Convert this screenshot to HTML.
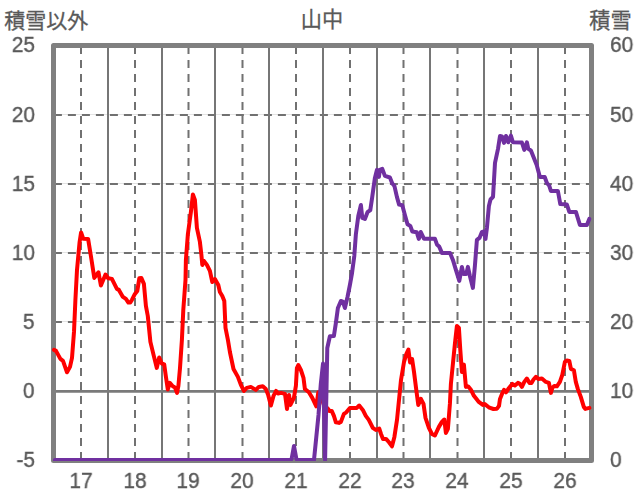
<!DOCTYPE html>
<html><head><meta charset="utf-8"><title>chart</title>
<style>
html,body{margin:0;padding:0;background:#fff}
body{width:636px;height:501px;position:relative;overflow:hidden;font-family:"Liberation Sans",sans-serif}
.t{position:absolute;will-change:transform;transform:scaleX(0.93);-webkit-text-stroke:0.4px #595959;font-size:22.5px;line-height:24px;height:24px;color:#595959;white-space:nowrap}
</style></head><body>
<svg width="636" height="501" viewBox="0 0 636 501" style="position:absolute;left:0;top:0">
<rect width="636" height="501" fill="#fff"/>
<line x1="56" y1="114.5" x2="589" y2="114.5" stroke="#e4e4e4" stroke-width="1"/>
<line x1="56" y1="183.5" x2="589" y2="183.5" stroke="#e4e4e4" stroke-width="1"/>
<line x1="56" y1="252.5" x2="589" y2="252.5" stroke="#e4e4e4" stroke-width="1"/>
<line x1="56" y1="321.5" x2="589" y2="321.5" stroke="#e4e4e4" stroke-width="1"/>
<line x1="53.9" y1="115.0" x2="589" y2="115.0" stroke="#717171" stroke-width="2" stroke-dasharray="8 6"/>
<line x1="53.9" y1="184.0" x2="589" y2="184.0" stroke="#717171" stroke-width="2" stroke-dasharray="8 6"/>
<line x1="53.9" y1="253.0" x2="589" y2="253.0" stroke="#717171" stroke-width="2" stroke-dasharray="8 6"/>
<line x1="53.9" y1="322.0" x2="589" y2="322.0" stroke="#717171" stroke-width="2" stroke-dasharray="8 6"/>
<line x1="81.0" y1="46.1" x2="81.0" y2="458" stroke="#717171" stroke-width="2" stroke-dasharray="7.8 6.2"/>
<line x1="135.0" y1="46.1" x2="135.0" y2="458" stroke="#717171" stroke-width="2" stroke-dasharray="7.8 6.2"/>
<line x1="188.5" y1="46.1" x2="188.5" y2="458" stroke="#717171" stroke-width="2" stroke-dasharray="7.8 6.2"/>
<line x1="242.5" y1="46.1" x2="242.5" y2="458" stroke="#717171" stroke-width="2" stroke-dasharray="7.8 6.2"/>
<line x1="296.0" y1="46.1" x2="296.0" y2="458" stroke="#717171" stroke-width="2" stroke-dasharray="7.8 6.2"/>
<line x1="350.0" y1="46.1" x2="350.0" y2="458" stroke="#717171" stroke-width="2" stroke-dasharray="7.8 6.2"/>
<line x1="403.5" y1="46.1" x2="403.5" y2="458" stroke="#717171" stroke-width="2" stroke-dasharray="7.8 6.2"/>
<line x1="457.5" y1="46.1" x2="457.5" y2="458" stroke="#717171" stroke-width="2" stroke-dasharray="7.8 6.2"/>
<line x1="511.0" y1="46.1" x2="511.0" y2="458" stroke="#717171" stroke-width="2" stroke-dasharray="7.8 6.2"/>
<line x1="565.0" y1="46.1" x2="565.0" y2="458" stroke="#717171" stroke-width="2" stroke-dasharray="7.8 6.2"/>
<line x1="108" y1="45.5" x2="108" y2="460.5" stroke="#767676" stroke-width="2"/>
<line x1="162" y1="45.5" x2="162" y2="460.5" stroke="#767676" stroke-width="2"/>
<line x1="215" y1="45.5" x2="215" y2="460.5" stroke="#767676" stroke-width="2"/>
<line x1="269" y1="45.5" x2="269" y2="460.5" stroke="#767676" stroke-width="2"/>
<line x1="323" y1="45.5" x2="323" y2="460.5" stroke="#767676" stroke-width="2"/>
<line x1="377" y1="45.5" x2="377" y2="460.5" stroke="#767676" stroke-width="2"/>
<line x1="430" y1="45.5" x2="430" y2="460.5" stroke="#767676" stroke-width="2"/>
<line x1="484" y1="45.5" x2="484" y2="460.5" stroke="#767676" stroke-width="2"/>
<line x1="538" y1="45.5" x2="538" y2="460.5" stroke="#767676" stroke-width="2"/>
<line x1="53.5" y1="391.4" x2="591.5" y2="391.4" stroke="#7a7a7a" stroke-width="2.8"/>
<rect x="53.5" y="45.5" width="538.0" height="415.0" fill="none" stroke="#808080" stroke-width="5" stroke-linejoin="round"/>
<polyline points="54.0,349.9 56.0,350.9 60.4,358.9 63.0,360.9 67.0,372.3 70.0,366.9 72.0,357.9 74.0,331.9 75.4,300.0 77.0,269.9 79.6,242.0 81.1,232.4 83.3,238.8 88.1,238.9 90.9,256.0 94.3,277.9 98.5,272.3 100.9,285.5 105.5,274.5 108.2,278.2 111.9,278.9 116.9,288.9 118.9,289.9 122.9,296.9 125.9,298.9 128.4,302.6 130.3,302.6 131.9,299.9 134.9,293.9 137.3,290.9 139.3,278.3 141.3,277.9 143.9,283.9 145.9,305.9 147.8,316.0 150.4,341.9 153.8,355.9 156.8,367.9 159.2,357.5 161.8,363.5 164.2,364.3 165.8,375.9 167.8,389.5 169.8,382.9 172.8,386.3 175.0,387.5 177.0,392.9 178.4,385.9 180.0,368.0 181.9,339.9 183.3,309.9 185.5,280.0 185.9,259.9 187.9,233.9 190.9,211.9 192.9,194.4 194.9,200.0 196.9,227.9 199.9,241.9 201.3,253.9 202.3,264.9 203.9,260.9 206.9,264.9 209.9,270.9 212.3,282.0 214.9,279.0 218.3,285.0 219.9,292.0 222.3,296.0 224.3,301.0 225.5,327.9 227.9,339.9 229.9,352.0 233.5,369.0 237.9,376.9 240.9,384.9 243.9,390.9 246.8,387.9 250.8,386.9 255.8,389.9 258.8,386.9 262.8,386.3 265.8,388.9 268.3,395.4 270.9,405.5 273.5,395.9 276.1,390.9 278.0,393.5 281.0,392.9 285.0,393.9 287.0,408.9 289.0,394.9 290.4,404.9 293.9,397.9 295.9,385.9 296.9,368.0 298.3,365.0 300.9,370.0 303.5,377.9 304.9,388.9 308.9,392.3 312.3,397.9 316.3,406.3 318.3,392.3 321.0,397.0 324.0,405.0 328.1,408.9 329.3,410.9 331.7,410.9 333.9,415.9 335.9,422.3 338.9,422.9 340.9,421.9 343.9,413.9 346.3,412.3 349.9,407.9 356.8,407.9 359.2,405.5 362.8,409.9 365.8,415.9 368.8,419.9 372.8,427.9 375.8,429.9 379.2,428.5 381.0,433.9 383.0,438.9 386.0,438.9 389.0,442.3 392.0,446.3 394.4,436.9 397.0,419.9 399.0,399.9 401.0,380.0 404.0,362.0 406.4,353.9 408.4,349.6 410.1,362.5 412.1,359.0 414.0,371.9 416.3,390.0 418.3,404.9 420.9,398.9 423.5,403.9 425.5,417.9 428.9,427.9 431.9,433.9 434.9,435.5 438.9,426.9 441.9,421.9 444.3,419.5 445.9,432.9 447.9,428.9 449.9,403.9 450.9,383.9 452.9,363.9 454.9,343.9 456.9,326.0 458.9,328.0 460.3,349.9 461.9,371.9 463.9,364.6 465.9,386.9 468.3,386.5 470.9,389.7 473.9,395.8 476.3,398.8 478.8,401.9 482.8,404.9 484.8,404.1 489.4,407.7 493.4,409.0 497.0,408.7 499.0,405.9 500.0,398.9 502.0,393.9 504.0,389.9 506.0,392.3 509.0,387.9 512.3,383.9 514.9,385.5 517.9,382.9 519.9,383.9 521.9,386.9 524.3,381.9 526.9,378.5 529.5,382.9 531.5,382.9 533.5,379.5 535.9,376.9 538.3,378.9 541.9,378.5 545.9,381.9 548.9,382.9 550.9,392.9 552.3,387.9 554.3,385.9 556.9,386.3 559.9,381.9 562.3,374.9 564.9,361.9 566.9,360.5 569.3,360.9 570.9,368.9 573.9,370.3 575.8,381.9 577.8,388.9 580.8,396.9 583.8,406.9 585.4,408.9 589.4,407.9" fill="none" stroke="#ff0000" stroke-width="4" stroke-linejoin="round" stroke-linecap="round"/>
<clipPath id="pc"><rect x="50" y="40" width="545" height="420.9"/></clipPath>
<polyline clip-path="url(#pc)" points="54.9,460.0 290.6,460.0 291.6,459.0 294.0,445.9 296.4,459.0 297.4,460.0 314.0,460.0 316.3,437.0 318.5,415.0 320.8,384.0 323.0,363.6 325.1,460.0 327.3,348.0 329.9,336.3 333.9,335.9 335.9,322.9 337.9,308.0 340.9,301.0 342.9,301.6 344.9,308.0 347.5,297.0 349.9,285.0 351.9,273.9 354.3,255.9 355.9,233.9 358.3,216.0 360.9,205.0 362.3,218.0 364.9,219.0 367.5,212.2 370.3,210.1 372.1,197.9 374.9,177.9 376.9,169.9 378.9,176.9 379.9,169.9 382.3,168.9 384.9,175.9 389.9,177.5 392.3,183.5 394.4,185.9 396.9,196.9 399.1,204.6 402.3,205.2 404.9,215.0 407.5,224.3 410.3,225.9 412.3,231.5 416.8,232.3 418.8,238.9 420.8,232.0 423.9,238.7 434.9,238.7 436.9,244.4 439.1,246.4 441.9,252.9 450.0,252.9 452.9,259.9 455.9,269.9 459.3,280.9 461.9,266.9 463.5,273.9 466.3,273.9 467.9,266.9 469.9,275.9 472.9,287.9 474.9,265.9 476.9,239.9 479.5,237.9 481.9,231.9 483.9,231.5 485.5,238.9 486.9,228.0 488.9,206.0 490.5,199.5 493.0,196.9 495.0,162.9 498.0,148.9 500.0,136.0 502.0,136.4 504.0,142.9 506.0,136.0 508.3,142.3 510.9,135.6 512.9,142.3 521.9,142.5 524.3,149.9 526.9,142.3 528.3,148.9 530.9,150.5 533.9,157.9 536.7,165.0 539.9,177.0 544.7,177.0 546.9,183.0 549.3,185.8 550.9,191.0 557.9,191.0 560.3,204.1 566.9,204.5 569.3,211.9 575.9,211.9 579.9,224.9 586.9,224.9 589.3,218.9" fill="none" stroke="#7030a0" stroke-width="4" stroke-linejoin="round" stroke-linecap="round"/>
<text x="4.2" y="28.2" font-size="21" fill="#595959" stroke="#595959" stroke-width="0.3" font-family="&quot;Liberation Sans&quot;, &quot;Noto Sans CJK JP&quot;, sans-serif">積雪以外</text>
<text x="589.2" y="28.4" font-size="21.2" fill="#595959" stroke="#595959" stroke-width="0.3" font-family="&quot;Liberation Sans&quot;, &quot;Noto Sans CJK JP&quot;, sans-serif">積雪</text>
<text x="300.8" y="27.4" font-size="21.2" fill="#595959" stroke="#595959" stroke-width="0.3" font-family="&quot;Liberation Sans&quot;, &quot;Noto Sans CJK JP&quot;, sans-serif">山中</text>
</svg>
<div class="t" style="right:601.4px;top:33px;text-align:right;transform-origin:100% 50%">25</div>
<div class="t" style="right:601.4px;top:103px;text-align:right;transform-origin:100% 50%">20</div>
<div class="t" style="right:601.4px;top:172px;text-align:right;transform-origin:100% 50%">15</div>
<div class="t" style="right:601.4px;top:241px;text-align:right;transform-origin:100% 50%">10</div>
<div class="t" style="right:601.4px;top:310px;text-align:right;transform-origin:100% 50%">5</div>
<div class="t" style="right:601.4px;top:379px;text-align:right;transform-origin:100% 50%">0</div>
<div class="t" style="right:601.4px;top:448px;text-align:right;transform-origin:100% 50%">-5</div>
<div class="t" style="left:609.8px;top:33px;transform-origin:0 50%">60</div>
<div class="t" style="left:609.8px;top:103px;transform-origin:0 50%">50</div>
<div class="t" style="left:609.8px;top:172px;transform-origin:0 50%">40</div>
<div class="t" style="left:609.8px;top:241px;transform-origin:0 50%">30</div>
<div class="t" style="left:609.8px;top:310px;transform-origin:0 50%">20</div>
<div class="t" style="left:609.8px;top:379px;transform-origin:0 50%">10</div>
<div class="t" style="left:609.8px;top:448px;transform-origin:0 50%">0</div>
<div class="t" style="left:50.6px;width:60px;text-align:center;top:469px;transform-origin:50% 50%">17</div>
<div class="t" style="left:104.6px;width:60px;text-align:center;top:469px;transform-origin:50% 50%">18</div>
<div class="t" style="left:158.1px;width:60px;text-align:center;top:469px;transform-origin:50% 50%">19</div>
<div class="t" style="left:212.1px;width:60px;text-align:center;top:469px;transform-origin:50% 50%">20</div>
<div class="t" style="left:265.6px;width:60px;text-align:center;top:469px;transform-origin:50% 50%">21</div>
<div class="t" style="left:319.6px;width:60px;text-align:center;top:469px;transform-origin:50% 50%">22</div>
<div class="t" style="left:373.1px;width:60px;text-align:center;top:469px;transform-origin:50% 50%">23</div>
<div class="t" style="left:427.1px;width:60px;text-align:center;top:469px;transform-origin:50% 50%">24</div>
<div class="t" style="left:480.6px;width:60px;text-align:center;top:469px;transform-origin:50% 50%">25</div>
<div class="t" style="left:534.6px;width:60px;text-align:center;top:469px;transform-origin:50% 50%">26</div>
</body></html>
